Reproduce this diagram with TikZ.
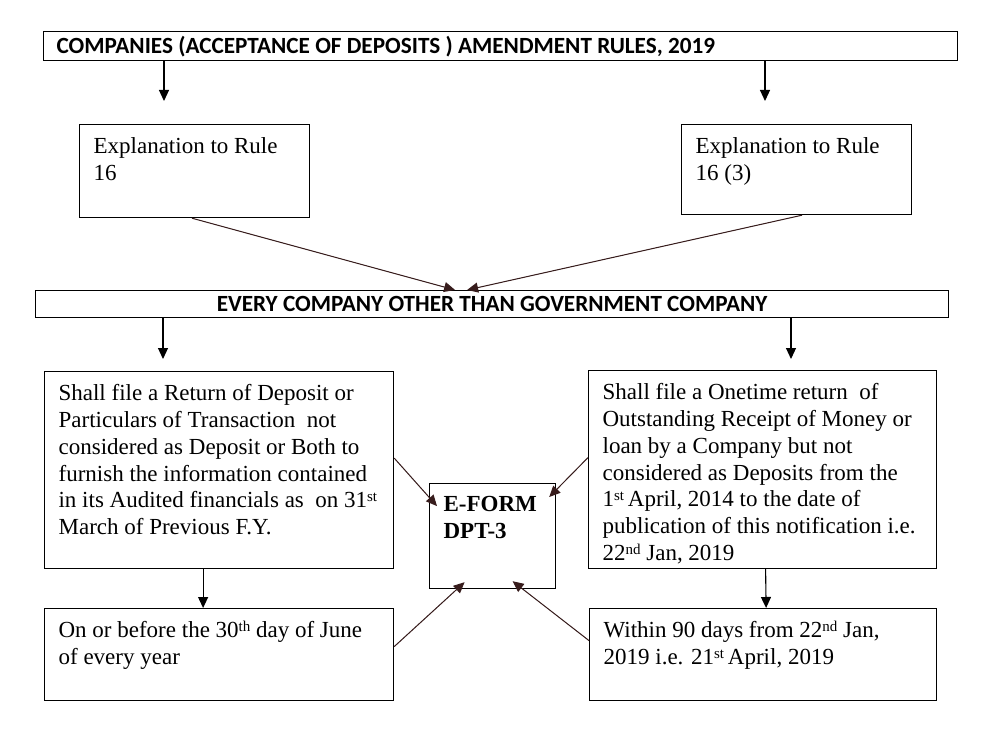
\documentclass[tikz,border=0pt]{standalone}
\usepackage{fontspec}
\setmainfont{Liberation Serif}
\newfontfamily\headfont{Carlito}[BoldFont={Carlito Bold}]
\usetikzlibrary{arrows.meta}
\definecolor{linkc}{RGB}{55,28,28}
\newcommand{\bodyfont}{\fontsize{23pt}{26.8pt}\selectfont}
\newcommand{\capsfont}{\fontsize{23.2pt}{27pt}\headfont\bfseries}
\newcommand{\boxtext}[3]{\parbox[c][#2][t]{#1}{\raggedright#3}}
\newcommand{\sups}[1]{\smash{\raisebox{6pt}{\fontsize{15pt}{15pt}\selectfont#1}}}
\tikzset{
	panel/.style={draw,line width=1.2pt,anchor=north west,inner xsep=14pt,inner ysep=13pt,font=\bodyfont},
	banner/.style={draw,line width=1.2pt,anchor=north west,inner sep=0pt,font=\capsfont,text height=15pt,text depth=0pt},
	flow/.style={-{Triangle[length=11pt,width=10pt]},line width=1.1pt},
	link/.style={flow,draw=linkc,fill=linkc,line width=1pt}
}
\begin{document}
	\begin{tikzpicture}[x=1pt,y=-1pt]
		\useasboundingbox[fill=white] (0,0) rectangle (1000,730);
		% rules and the two explanations
		\node[banner,text width=888pt,align=flush left,inner xsep=13pt,minimum height=29pt] (rules) at (43,31)
			{COMPANIES (ACCEPTANCE OF DEPOSITS ) AMENDMENT RULES, 2019};
		\node[panel] (expl) at (79,124) {\boxtext{202pt}{67pt}{Explanation to Rule\\16}};
		\node[panel] (explthree) at (681,124) {\boxtext{202pt}{64pt}{Explanation to Rule\\16 (3)}};
		\coordinate (expltip) at (164,101);
		\coordinate (explthreetip) at (765,101);
		\draw[flow] (rules.south -| expltip)--(expltip);
		\draw[flow] (rules.south -| explthreetip)--(explthreetip);
		% every company
		\node[banner,align=center,minimum width=913pt,minimum height=27pt] (every) at (35,290)
			{EVERY COMPANY OTHER THAN GOVERNMENT COMPANY};
		\draw[link] ([xshift=113pt]expl.south west)--([xshift=-37pt]every.north);
		\draw[link] ([xshift=121pt]explthree.south west)--([xshift=-25pt]every.north);
		% the two returns
		\node[panel] (ret) at (44,371) {\boxtext{321pt}{171pt}{Shall file a Return of Deposit or\\
			Particulars of Transaction\ \ not\\
			considered as Deposit or Both to\\
			furnish the information contained\\
			in its Audited financials as\ \ on 31\sups{st}\\
			March of Previous F.Y.}};
		\node[panel] (onetime) at (588,370) {\boxtext{320pt}{172pt}{Shall file a Onetime return\ \ of\\
			Outstanding Receipt of Money or\\
			loan by a Company but not\\
			considered as Deposits from the\\
			1\sups{st}\,April, 2014 to the date of\\
			publication of this notification i.e.\\
			22\sups{nd} Jan, 2019}};
		\coordinate (rettip) at (163,359);
		\coordinate (onetimetip) at (791,359);
		\draw[flow] (every.south -| rettip)--(rettip);
		\draw[flow] (every.south -| onetimetip)--(onetimetip);
		% the form
		\node[panel,font=\bodyfont\bfseries] (dpt) at (429,483) {\boxtext{98pt}{79pt}{E-FORM\\DPT-3}};
		% due dates
		\node[panel] (june) at (44,608) {\boxtext{321pt}{66pt}{On or before the 30\sups{th} day of June\\of every year}};
		\node[panel] (ninety) at (589,608) {\boxtext{319pt}{66pt}{Within 90 days from 22\sups{nd} Jan,\\2019 i.e. 21\sups{st}\,April, 2019}};
		\draw[flow] ([xshift=-16pt]ret.south)--([xshift=-16pt]june.north);
		\draw[flow] ([xshift=3pt]onetime.south)--([xshift=3pt]ninety.north);
		\draw[link] ([yshift=12pt]ret.east)--([xshift=8pt,yshift=30pt]dpt.west);
		\draw[link] ([yshift=12pt]onetime.west)--([xshift=-7pt,yshift=-14pt]dpt.north east);
		\draw[link] ([yshift=8pt]june.east)--([xshift=-28pt,yshift=7pt]dpt.south);
		\draw[link] ([yshift=14pt]ninety.west)--([xshift=20pt,yshift=8pt]dpt.south);
	\end{tikzpicture}
\end{document}
